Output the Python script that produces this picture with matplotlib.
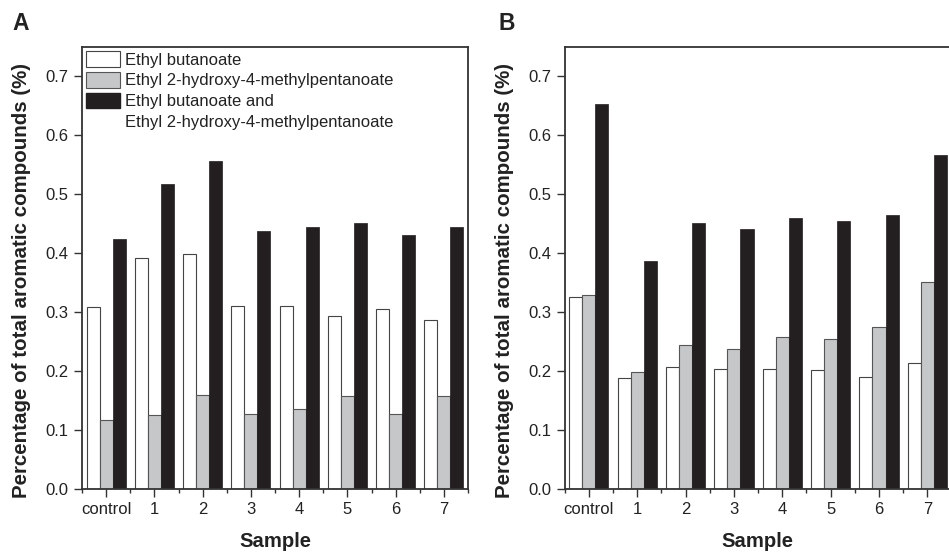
import matplotlib
matplotlib.use("Agg")
import matplotlib.pyplot as plt
from matplotlib.patches import Patch
from matplotlib.ticker import FixedLocator, NullFormatter
import numpy as np

plt.rcParams['font.family'] = ['Liberation Sans', 'DejaVu Sans']

categories = ["control", "1", "2", "3", "4", "5", "6", "7"]
series_names = ["Ethyl butanoate", "Ethyl 2-hydroxy-4-methylpentanoate",
                "Ethyl butanoate and", "Ethyl 2-hydroxy-4-methylpentanoate"]

# Panel A
a_butanoate = [0.309, 0.392, 0.398, 0.310, 0.310, 0.294, 0.305, 0.286]
a_hydroxy = [0.116, 0.125, 0.159, 0.127, 0.136, 0.158, 0.126, 0.158]
a_both = [0.424, 0.518, 0.557, 0.437, 0.444, 0.452, 0.430, 0.444]

# Panel B
b_butanoate = [0.325, 0.188, 0.207, 0.204, 0.204, 0.201, 0.190, 0.214]
b_hydroxy = [0.329, 0.198, 0.244, 0.237, 0.257, 0.254, 0.275, 0.351]
b_both = [0.654, 0.386, 0.451, 0.441, 0.460, 0.455, 0.464, 0.566]

yticks = [0.0, 0.1, 0.2, 0.3, 0.4, 0.5, 0.6, 0.7]

W, H = 949, 552
fig = plt.figure(figsize=(W / 100, H / 100), dpi=100)

white = '#ffffff'
gray = '#c6c7c9'
black = '#231f20'
spine_col = '#333333'
text_col = '#222222'

def px(x0, y0, x1, y1):
    return [x0 / W, 1 - y1 / H, (x1 - x0) / W, (y1 - y0) / H]

def draw(ax, s1, s2, s3):
    x = np.arange(len(categories))
    bw = 0.27
    ax.bar(x - bw, s1, bw, color=white, edgecolor='#444444', linewidth=0.8, zorder=2)
    ax.bar(x, s2, bw, color=gray, edgecolor='#555555', linewidth=0.8, zorder=2)
    ax.bar(x + bw, s3, bw, color=black, edgecolor=black, linewidth=0.5, zorder=2)
    ax.set_xlim(-0.5, len(categories) - 0.5)
    ax.set_ylim(0, 0.75)
    ax.set_xticks(x)
    ax.set_xticklabels(categories)
    ax.xaxis.set_minor_locator(FixedLocator(np.arange(len(categories) + 1) - 0.5))
    ax.xaxis.set_minor_formatter(NullFormatter())
    ax.set_yticks(yticks)
    ax.set_yticklabels([f"{v:.1f}" for v in yticks])
    ax.tick_params(axis='both', which='major', direction='out', length=6,
                   width=1.0, color=spine_col, labelsize=12, labelcolor=text_col, pad=3.5)
    ax.tick_params(axis='x', which='minor', direction='out', length=3, width=1.0,
                   color=spine_col)
    for s in ax.spines.values():
        s.set_color(spine_col)
        s.set_linewidth(1.3)

axA = fig.add_axes(px(82, 47, 468, 488.7))
draw(axA, a_butanoate, a_hydroxy, a_both)
axB = fig.add_axes(px(564.7, 47, 951.5, 488.7))
draw(axB, b_butanoate, b_hydroxy, b_both)

handles = [Patch(facecolor=white, edgecolor='#444444', linewidth=0.8),
           Patch(facecolor=gray, edgecolor='#555555', linewidth=0.8),
           Patch(facecolor=black, edgecolor=black),
           Patch(facecolor='none', edgecolor='none')]
axA.legend(handles, series_names, loc='upper left', frameon=False, fontsize=12,
           handlelength=2.05, handleheight=1.05, handletextpad=0.3,
           labelspacing=0.27, borderaxespad=0.1, borderpad=0.15,
           labelcolor=text_col)

ylabel = "Percentage of total aromatic compounds (%)"
fig.text(22 / W, 1 - 281 / H, ylabel, rotation=90, ha='center', va='center',
         fontsize=14.8, fontweight='bold', color=text_col)
fig.text(504 / W, 1 - 281 / H, ylabel, rotation=90, ha='center', va='center',
         fontsize=14.8, fontweight='bold', color=text_col)
fig.text(275 / W, 1 - 547 / H, "Sample", ha='center', va='baseline',
         fontsize=14.6, fontweight='bold', color=text_col)
fig.text(757.7 / W, 1 - 547 / H, "Sample", ha='center', va='baseline',
         fontsize=14.6, fontweight='bold', color=text_col)
fig.text(12 / W, 1 - 30 / H, "A", ha='left', va='baseline',
         fontsize=16.5, fontweight='bold', color=text_col)
fig.text(499 / W, 1 - 30 / H, "B", ha='left', va='baseline',
         fontsize=16.5, fontweight='bold', color=text_col)

fig.savefig("out.png", dpi=100)
